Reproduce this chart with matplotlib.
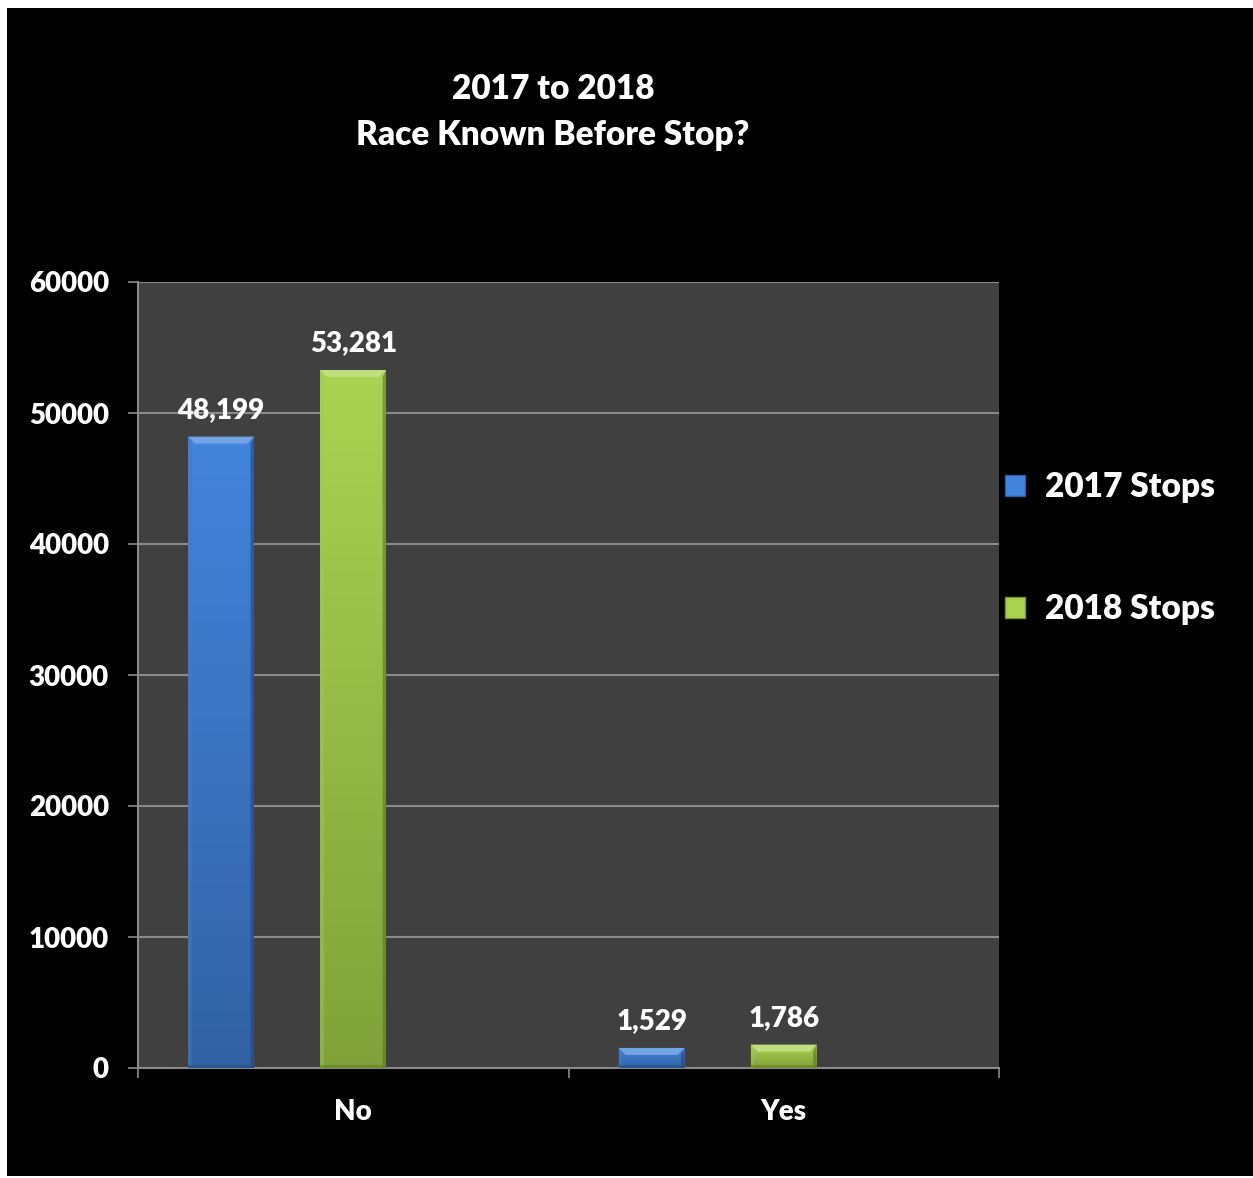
import numpy as np
import matplotlib
matplotlib.use("Agg")
import matplotlib.pyplot as plt
from matplotlib.patches import Rectangle, Polygon
from matplotlib.colors import to_rgb, LinearSegmentedColormap

plt.rcParams['font.family'] = ['Lato', 'DejaVu Sans']
plt.rcParams['font.weight'] = 'heavy'

# Data
categories = ["No", "Yes"]
series_names = ["2017 Stops", "2018 Stops"]
stops_2017 = [48199, 1529]
stops_2018 = [53281, 1786]
yticks = [0, 10000, 20000, 30000, 40000, 50000, 60000]

# Styling
W, H = 1253, 1178
DPI = 100
WEIGHT = "heavy"
blue_top, blue_bot = "#4384dc", "#3262a4"
green_top, green_bot = "#aad352", "#80a239"
plot_bg = "#404040"
grid_c = "#8a8a8a"

fig = plt.figure(figsize=(W / DPI, H / DPI), dpi=DPI, facecolor="white")
# black chart area inside a thin white margin
fig.patches.append(Rectangle((7 / W, 2 / H), (W - 7) / W, (H - 10) / H,
                             transform=fig.transFigure, facecolor="black",
                             edgecolor="none", zorder=-5))

ax = fig.add_axes([138 / W, (H - 1068) / H, (999 - 138) / W, (1068 - 282) / H])
ax.set_facecolor(plot_bg)
ax.set_xlim(-0.5, 1.5)
ax.set_ylim(0, 60000)

x = np.arange(len(categories))
bar_w = 0.153
offsets = [-0.307, 0.0]
series = [stops_2017, stops_2018]
tops = [blue_top, green_top]
bots = [blue_bot, green_bot]

ax.set_yticks(yticks)
ax.set_yticklabels([str(v) for v in yticks])
ax.yaxis.grid(True, color=grid_c, linewidth=1.5, zorder=1)
ax.set_axisbelow(True)

fig.canvas.draw()
px_x = (ax.transData.inverted().transform((1, 0)) - ax.transData.inverted().transform((0, 0)))[0]
px_y = (ax.transData.inverted().transform((0, 1)) - ax.transData.inverted().transform((0, 0)))[1]


def lighten(c, f):
    r = np.array(to_rgb(c))
    return tuple(r + (1 - r) * f)


def darken(c, f):
    return tuple(np.array(to_rgb(c)) * (1 - f))


for vals, off, ct, cb, name in zip(series, offsets, tops, bots, series_names):
    bars = ax.bar(x + off, vals, width=bar_w, color=cb, edgecolor="none",
                  zorder=3, label=name)
    cmap = LinearSegmentedColormap.from_list("g", [cb, ct])
    for b, v in zip(bars, vals):
        x0, w = b.get_x(), b.get_width()
        grad = np.linspace(0, 1, 256).reshape(-1, 1)
        im = ax.imshow(grad, extent=[x0, x0 + w, 0, v], origin="lower",
                       cmap=cmap, aspect="auto", zorder=3)
        im.set_clip_path(b)
        bx = 7 * px_x
        by = min(7 * px_y, v * 0.35)
        # bevelled top
        ax.add_patch(Polygon([(x0, v), (x0 + w, v), (x0 + w - bx, v - by), (x0 + bx, v - by)],
                             closed=True, facecolor=lighten(ct, 0.25), edgecolor="none", zorder=4))
        # bevel sides
        ax.add_patch(Polygon([(x0, v), (x0 + bx * 0.5, v - by), (x0 + bx * 0.5, 0), (x0, 0)],
                             closed=True, facecolor=darken(ct, 0.05), alpha=0.5, edgecolor="none", zorder=4))
        ax.add_patch(Polygon([(x0 + w, v), (x0 + w - bx * 0.5, v - by), (x0 + w - bx * 0.5, 0), (x0 + w, 0)],
                             closed=True, facecolor=darken(cb, 0.3), alpha=0.6, edgecolor="none", zorder=4))
        ax.add_patch(Rectangle((x0, 0), w, 3 * px_y, facecolor=darken(cb, 0.2),
                               edgecolor="none", alpha=0.6, zorder=4))
        ax.annotate(f"{v:,}", (x0 + w / 2, v), xytext=(0, 10), textcoords="offset points",
                    ha="center", va="bottom", color="white", fontsize=20, fontweight=WEIGHT)

ax.set_xlim(-0.5, 1.5)
ax.set_ylim(0, 60000)

# Axes and ticks
for s in ["top", "right"]:
    ax.spines[s].set_visible(False)
for s in ["left", "bottom"]:
    ax.spines[s].set_color(grid_c)
    ax.spines[s].set_linewidth(1.5)
ax.tick_params(axis="y", colors=grid_c, length=7, width=1.2, pad=14,
               labelcolor="white", labelsize=20)
ax.set_xticks(x)
ax.set_xticklabels(categories)
ax.set_xticks([-0.5, 0.5, 1.5], minor=True)
ax.tick_params(axis="x", which="major", length=0, pad=22, labelcolor="white", labelsize=20)
ax.tick_params(axis="x", which="minor", length=7, width=1.2, color=grid_c)
for lbl in ax.get_xticklabels() + ax.get_yticklabels():
    lbl.set_fontweight(WEIGHT)

# Title
fig.text(553 / W, 1 - 112 / H, "2017 to 2018\nRace Known Before Stop?", ha="center", va="center",
         color="white", fontsize=24, fontweight=WEIGHT, linespacing=1.55)

# Legend
handles = [Rectangle((0, 0), 1, 1, facecolor=c, edgecolor=darken(c, 0.3)) for c in [blue_top, green_top]]
leg = fig.legend(handles, series_names, loc="center left", bbox_to_anchor=(975 / W, 1 - 548 / H),
                 frameon=False, labelcolor="white", handlelength=0.6, handleheight=0.6,
                 handletextpad=0.6, labelspacing=2.7, prop={"weight": WEIGHT, "size": 24})

fig.savefig("out.png", dpi=DPI, facecolor=fig.get_facecolor())
